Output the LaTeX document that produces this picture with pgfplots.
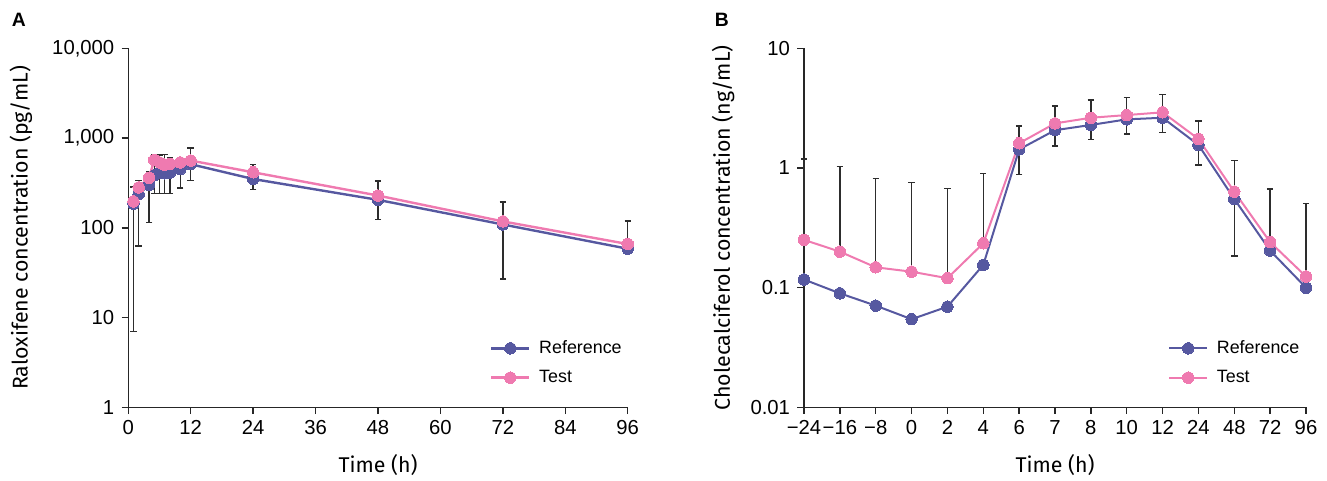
\documentclass[border=0pt]{standalone}
\usepackage{fontspec}
\setmainfont{Liberation Sans}
\newfontfamily\labelfont{Fira Sans}
\usepackage{pgfplots}
\usepackage{pgfplotstable}
\pgfplotsset{compat=1.18}
\definecolor{refc}{RGB}{86,88,160}
\definecolor{testc}{RGB}{239,122,176}
\definecolor{errc}{RGB}{45,45,45}

% Panel A: t, reference, test, error bar top, error bar bottom
\pgfplotstableread{
t  ref  test  hi   lo
1  186  197   284  7
2  238  282   337  63
4  300  362   420  115
5  385  570   650  240
6  415  535   650  240
7  405  505   655  240
8  412  515   600  240
10 452  535   610  277
12 512  562   775  337
24 350  416   505  268
48 205  229   334  124
72 109  118   195  27
96 58.5 66    119  66
}\dataA

% Panel B: category index, reference, test, error bar top, error bar bottom
\pgfplotstableread{
i  ref    test   hi    lo
0  0.117  0.251  1.19  0.251
1  0.0897 0.200  1.03  0.200
2  0.0708 0.148  0.82  0.148
3  0.0545 0.136  0.76  0.136
4  0.0694 0.120  0.676 0.120
5  0.155  0.235  0.90  0.235
6  1.43   1.61   2.25  0.88
7  2.07   2.36   3.31  1.53
8  2.29   2.63   3.70  1.74
9  2.55   2.77   3.89  1.92
10 2.63   2.92   4.12  1.99
11 1.56   1.75   2.48  1.06
12 0.551  0.634  1.15  0.184
13 0.204  0.240  0.668 0.240
14 0.100  0.124  0.507 0.124
}\dataB

\begin{document}
\begin{tikzpicture}
\useasboundingbox (0,0) rectangle (995.25pt,360pt);

\node[anchor=north west, inner sep=0pt, font=\bfseries\fontsize{14.5}{17}\selectfont] at (8.8pt,350pt) {A};
\node[anchor=north west, inner sep=0pt, font=\bfseries\fontsize{14.5}{17}\selectfont] at (536pt,350pt) {B};

\begin{axis}[
  scale only axis,
  at={(96.2pt,54.5pt)}, anchor=south west, width=374.6pt, height=269.25pt,
  axis x line=bottom, axis y line=left,
  axis line style={-, line width=1pt, black!85},
  tick style={line width=1pt, black!85},
  tick align=outside, major tick length=5pt,
  ticklabel style={font=\fontsize{15.2}{18}\selectfont},
  yticklabel style={xshift=-2pt},
  xticklabel style={yshift=-1.5pt},
  label style={font=\labelfont\fontsize{16}{19}\selectfont},
  xlabel style={at={(axis description cs:0.5,-0.1607)}, anchor=center},
  ylabel style={at={(axis description cs:-0.2148,0.5)}, anchor=center},
  clip=false,
  ymode=log, yminorticks=false,
  xmin=0, xmax=96, ymin=1, ymax=10000,
  xtick={0,12,24,36,48,60,72,84,96},
  xticklabels={0,12,24,36,48,60,72,84,96},
  ytick={1,10,100,1000,10000},
  yticklabels={1,10,100,{1,000},{10,000}},
  xlabel={Time (h)},
  ylabel={Raloxifene concentration (pg/mL)},
  legend cell align=left,
  legend style={draw=none, fill=none, anchor=west, at={(axis description cs:0.724,0.124)},
    font=\fontsize{13.4}{16}\selectfont, row sep=11pt, column sep=6.5pt,
    inner sep=0pt, nodes={inner sep=0pt}},
  legend image code/.code={\draw[mark repeat=2,mark phase=2,#1] plot coordinates {(0pt,0pt) (14.25pt,0pt) (28.5pt,0pt)};},
]
\addplot[forget plot, only marks, mark=none,
  error bars/y dir=both, error bars/y explicit,
  error bars/error bar style={errc, line width=1.05pt},
  error bars/error mark options={errc, line width=1.05pt, mark size=2.4pt, rotate=90}]
  table[x=t, y=test, y error plus expr=\thisrow{hi}-\thisrow{test}, y error minus expr=\thisrow{test}-\thisrow{lo}] {\dataA};
\addplot[refc, line width=1.8pt, mark=*, mark size=4.3pt, mark options={fill=refc, draw=refc, line width=0pt}] table[x=t, y=ref] {\dataA};
\addlegendentry{Reference}
\addplot[testc, line width=1.8pt, mark=*, mark size=4.3pt, mark options={fill=testc, draw=testc, line width=0pt}] table[x=t, y=test] {\dataA};
\addlegendentry{Test}
\end{axis}

\begin{axis}[
  scale only axis,
  at={(603pt,54.5pt)}, anchor=south west, width=376.5pt, height=269.25pt,
  axis x line=bottom, axis y line=left,
  axis line style={-, line width=1pt, black!85},
  tick style={line width=1pt, black!85},
  tick align=outside, major tick length=5pt,
  ticklabel style={font=\fontsize{15.2}{18}\selectfont},
  yticklabel style={xshift=-2pt},
  xticklabel style={yshift=-1.5pt},
  label style={font=\labelfont\fontsize{16}{19}\selectfont},
  xlabel style={at={(axis description cs:0.5,-0.1607)}, anchor=center},
  ylabel style={at={(axis description cs:-0.161,0.5)}, anchor=center},
  clip=false,
  ymode=log, yminorticks=false,
  xmin=0, xmax=14, ymin=0.01, ymax=10,
  xtick={0,1,2,3,4,5,6,7,8,9,10,11,12,13,14},
  xticklabels={−24,−16,−8,0,2,4,6,7,8,10,12,24,48,72,96},
  ytick={0.01,0.1,1,10},
  yticklabels={0.01,0.1,1,10},
  xlabel={Time (h)},
  ylabel={Cholecalciferol concentration (ng/mL)},
  legend cell align=left,
  legend style={draw=none, fill=none, anchor=west, at={(axis description cs:0.725,0.124)},
    font=\fontsize{13.4}{16}\selectfont, row sep=11pt, column sep=6.5pt,
    inner sep=0pt, nodes={inner sep=0pt}},
  legend image code/.code={\draw[mark repeat=2,mark phase=2,#1] plot coordinates {(0pt,0pt) (14.25pt,0pt) (28.5pt,0pt)};},
]
\addplot[forget plot, only marks, mark=none,
  error bars/y dir=both, error bars/y explicit,
  error bars/error bar style={errc, line width=1.05pt},
  error bars/error mark options={errc, line width=1.05pt, mark size=2.4pt, rotate=90}]
  table[x=i, y=test, y error plus expr=\thisrow{hi}-\thisrow{test}, y error minus expr=\thisrow{test}-\thisrow{lo}] {\dataB};
\addplot[refc, line width=1.5pt, mark=*, mark size=4.3pt, mark options={fill=refc, draw=refc, line width=0pt}] table[x=i, y=ref] {\dataB};
\addlegendentry{Reference}
\addplot[testc, line width=1.5pt, mark=*, mark size=4.3pt, mark options={fill=testc, draw=testc, line width=0pt}] table[x=i, y=test] {\dataB};
\addlegendentry{Test}
\end{axis}
\end{tikzpicture}
\end{document}
